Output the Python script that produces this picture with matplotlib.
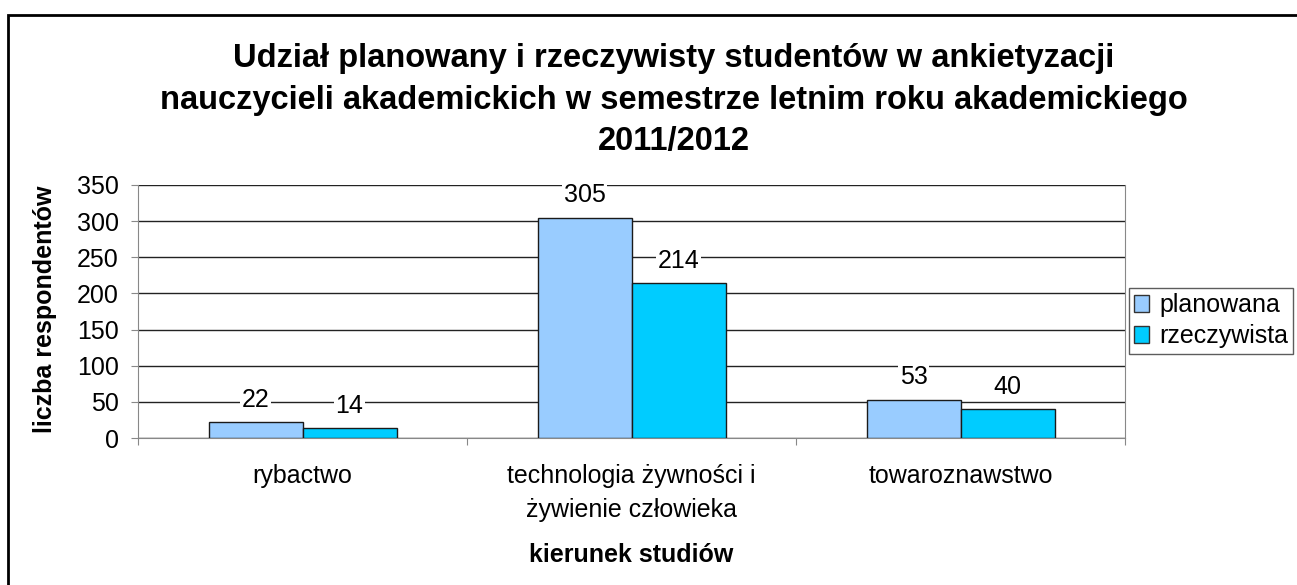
import matplotlib.pyplot as plt
import numpy as np
from matplotlib.patches import Rectangle
from matplotlib.transforms import blended_transform_factory

plt.rcParams['font.family'] = ['Liberation Sans', 'DejaVu Sans']

# data
categories = ['rybactwo', 'technologia żywności i\nżywienie człowieka', 'towaroznawstwo']
planowana = [22, 305, 53]
rzeczywista = [14, 214, 40]
series_names = ['planowana', 'rzeczywista']

W, H = 1297, 585
fig = plt.figure(figsize=(W/100, H/100), dpi=100)
ax = fig.add_axes([138/W, 1 - 438/H, (1125 - 138)/W, (438 - 185)/H])

x = np.arange(len(categories))
w = 1 / 3.5
b1 = ax.bar(x - w/2, planowana, w, color='#99CCFF', edgecolor='#1a1a1a', linewidth=1, label=series_names[0], zorder=3)
b2 = ax.bar(x + w/2, rzeczywista, w, color='#00CCFF', edgecolor='#1a1a1a', linewidth=1, label=series_names[1], zorder=3)

for bars in (b1, b2):
    for r in bars:
        ax.annotate(str(int(r.get_height())), (r.get_x() + r.get_width()/2, r.get_height()),
                    xytext=(0, 11), textcoords='offset points', ha='center', va='baseline',
                    fontsize=18, bbox=dict(facecolor='white', edgecolor='none', pad=1), zorder=4)

ax.set_ylim(0, 350)
ax.set_yticks(range(0, 351, 50))
ax.set_xlim(-0.5, 2.5)
ax.yaxis.grid(True, color='#222222', linewidth=1, zorder=0)
ax.set_xticks([-0.5, 0.5, 1.5, 2.5])
ax.set_xticklabels([])
ax.tick_params(axis='x', length=5, color='#888888')
ax.tick_params(axis='y', length=5, color='#888888', labelsize=18, pad=9)
ax.spines['top'].set_visible(False)
for s in ['left', 'bottom', 'right']:
    ax.spines[s].set_color('#888888')
ax.set_axisbelow(True)

# category labels below the axis, one text per line
tr = blended_transform_factory(ax.transData, fig.transFigure)
for xi, cat in zip(x, categories):
    for k, line in enumerate(cat.split('\n')):
        fig.text(xi, 1 - (483 + 34*k)/H, line, transform=tr, ha='center', va='baseline', fontsize=18)

fig.text((138 + 1125)/2/W, 1 - 562/H, 'kierunek studiów', ha='center', va='baseline',
         fontsize=18, fontweight='bold')
fig.text(45/W, 1 - 309/H, 'liczba respondentów', rotation=90, ha='center', va='center',
         fontsize=18, fontweight='bold')

fig.text(674/W, 1 - 100/H,
         'Udział planowany i rzeczywisty studentów w ankietyzacji\n'
         'nauczycieli akademickich w semestrze letnim roku akademickiego\n'
         '2011/2012', ha='center', va='center', fontsize=23.5, fontweight='bold', linespacing=1.43)

leg = fig.legend(loc='upper left', bbox_to_anchor=(1129/W, 1 - 288/H), fontsize=18,
                 frameon=True, fancybox=False, edgecolor='#333333', handlelength=0.6,
                 handleheight=0.65, handletextpad=0.4, borderpad=0.2, labelspacing=0.3,
                 borderaxespad=0)
leg.get_frame().set_linewidth(1)
for h in leg.legend_handles:
    h.set_edgecolor('#333333')

fig.patches.append(Rectangle((8/W, -0.1), 1.2, 1 - 15/H + 0.1, transform=fig.transFigure,
                             fill=False, edgecolor='black', linewidth=2))

fig.savefig('out.png', dpi=100)
